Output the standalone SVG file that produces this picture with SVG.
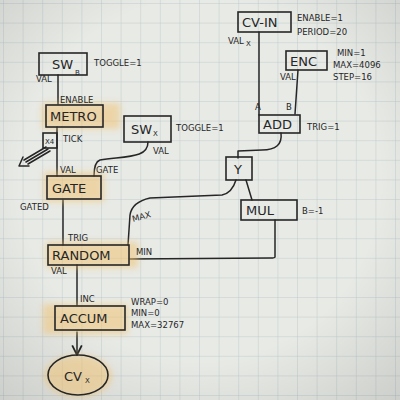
<svg xmlns="http://www.w3.org/2000/svg" width="400" height="400" viewBox="0 0 400 400">
<defs>
<pattern id="grid" x="4" y="4" width="19.6" height="19.6" patternUnits="userSpaceOnUse">
<path d="M19.6 0V19.6M0 19.6H19.6" fill="none" stroke="#bcc8cc" stroke-width="0.9"/>
</pattern>
<filter id="blur" x="-20%" y="-40%" width="140%" height="180%"><feGaussianBlur stdDeviation="3"/></filter>
<marker id="arr" viewBox="0 0 10 10" refX="9" refY="5" markerWidth="8" markerHeight="8" orient="auto-start-reverse">
<path d="M1 1L9 5L1 9" fill="none" stroke="#222" stroke-width="1.5"/>
</marker>
<radialGradient id="vig" cx="50%" cy="45%" r="75%">
<stop offset="0.6" stop-color="#000" stop-opacity="0"/>
<stop offset="1" stop-color="#000" stop-opacity="0.12"/>
</radialGradient>
</defs>
<style>
.box{fill:none;stroke:#262626;stroke-width:1.6}
.hl{fill:#f0c06a;opacity:0.5;filter:url(#blur)}
.c{fill:none;stroke:#262626;stroke-width:1.5;stroke-linecap:round;stroke-linejoin:round}
.n{font-family:"DejaVu Sans",sans-serif;font-size:13px;fill:#262626}
.t{font-family:"DejaVu Sans",sans-serif;font-size:8.5px;fill:#262626}
.s{font-family:"DejaVu Sans",sans-serif;font-size:7px;fill:#262626}
</style>
<rect width="400" height="400" fill="#e8eae6"/>
<rect width="400" height="400" fill="url(#grid)"/>
<rect width="400" height="400" fill="url(#vig)"/>

<g id="connectors">
<path class="c" d="M58 75V104"/>
<path class="c" d="M57 127V176"/>
<path class="c" d="M148 142C148 158 128 156 100 160Q94 162 94 176"/>
<path class="c" d="M63 200V245"/>
<path class="c" d="M77 265V305"/>
<path class="c" d="M77 332V355" marker-end="url(#arr)"/>
<path class="c" d="M259 32V115"/>
<path class="c" d="M298 70L295 114"/>
<path class="c" d="M281 133Q283 150 262 150L238 151V158"/>
<path class="c" d="M236 180Q232 193 222 195L150 198Q132 202 130 215L128 245"/>
<path class="c" d="M246 180L252 200"/>
<path class="c" d="M275 220V257Q275 258 270 258L130 259"/>
<path class="c" d="M46 147L24 160M48 149L26 162M50 151L28 164M19 166L29 166M19 166L23 157" stroke-width="0.9"/>
</g>

<g id="sw_b">
<rect class="box" x="39" y="53" width="48" height="22"/>
<text class="n" x="52" y="69">SW</text><text class="s" x="75" y="75">B</text>
<text class="t" x="94" y="66">TOGGLE=1</text>
<text class="t" x="36" y="82">VAL</text>
</g>

<g id="metro">
<rect class="hl" x="42" y="103" width="78" height="26"/>
<rect class="box" x="46" y="105" width="57" height="22"/>
<text class="n" x="50" y="121">METRO</text>
<text class="t" x="60" y="103">ENABLE</text>
</g>

<g id="x4">
<rect class="box" x="43" y="133" width="14" height="15"/>
<text class="s" x="45" y="144">X4</text>
<text class="t" x="63" y="142">TICK</text>
</g>

<g id="sw_x">
<rect class="box" x="124" y="116" width="47" height="26"/>
<text class="n" x="131" y="134">SW</text><text class="s" x="153" y="136">X</text>
<text class="t" x="176" y="131">TOGGLE=1</text>
<text class="t" x="153" y="154">VAL</text>
</g>

<g id="gate">
<rect class="hl" x="44" y="172" width="60" height="30"/>
<rect class="box" x="47" y="176" width="54" height="23"/>
<text class="n" x="52" y="193">GATE</text>
<text class="t" x="60" y="173">VAL</text>
<text class="t" x="96" y="173">GATE</text>
<text class="t" x="20" y="210">GATED</text>
</g>

<g id="random">
<rect class="hl" x="46" y="242" width="92" height="26"/>
<rect class="box" x="48" y="245" width="81" height="20"/>
<text class="n" x="52" y="260">RANDOM</text>
<text class="t" x="68" y="241">TRIG</text>
<text class="t" x="133" y="222" transform="rotate(-15 133 222)">MAX</text>
<text class="t" x="136" y="255">MIN</text>
<text class="t" x="51" y="274">VAL</text>
</g>

<g id="accum">
<rect class="hl" x="43" y="304" width="85" height="30"/>
<rect class="box" x="55" y="306" width="70" height="24"/>
<text class="n" x="60" y="323">ACCUM</text>
<text class="t" x="80" y="302">INC</text>
<text class="t" x="131" y="305">WRAP=0</text>
<text class="t" x="131" y="316">MIN=0</text>
<text class="t" x="131" y="328">MAX=32767</text>
</g>

<g id="cvx">
<ellipse class="hl" cx="78" cy="376" rx="34" ry="21"/>
<ellipse class="box" cx="78" cy="375" rx="30" ry="20"/>
<text class="n" x="64" y="381">CV</text><text class="s" x="85" y="383">X</text>
</g>

<g id="cvin">
<rect class="box" x="238" y="12" width="53" height="20"/>
<text class="n" x="242" y="27">CV-IN</text>
<text class="t" x="297" y="21">ENABLE=1</text>
<text class="t" x="297" y="35">PERIOD=20</text>
<text class="t" x="228" y="44">VAL</text><text class="s" x="246" y="46">X</text>
</g>

<g id="enc">
<rect class="box" x="286" y="51" width="41" height="19"/>
<text class="n" x="290" y="66">ENC</text>
<text class="t" x="337" y="56">MIN=1</text>
<text class="t" x="333" y="68">MAX=4096</text>
<text class="t" x="333" y="80">STEP=16</text>
<text class="t" x="280" y="80">VAL</text>
</g>

<g id="add">
<rect class="box" x="259" y="115" width="41" height="18"/>
<text class="n" x="263" y="129">ADD</text>
<text class="t" x="255" y="110">A</text>
<text class="t" x="286" y="110">B</text>
<text class="t" x="307" y="130">TRIG=1</text>
</g>

<g id="y">
<rect class="box" x="226" y="157" width="26" height="23"/>
<text class="n" x="234" y="174">Y</text>
</g>

<g id="mul">
<rect class="box" x="241" y="200" width="56" height="20"/>
<text class="n" x="246" y="215">MUL</text>
<text class="t" x="302" y="214">B=-1</text>
</g>
</svg>
